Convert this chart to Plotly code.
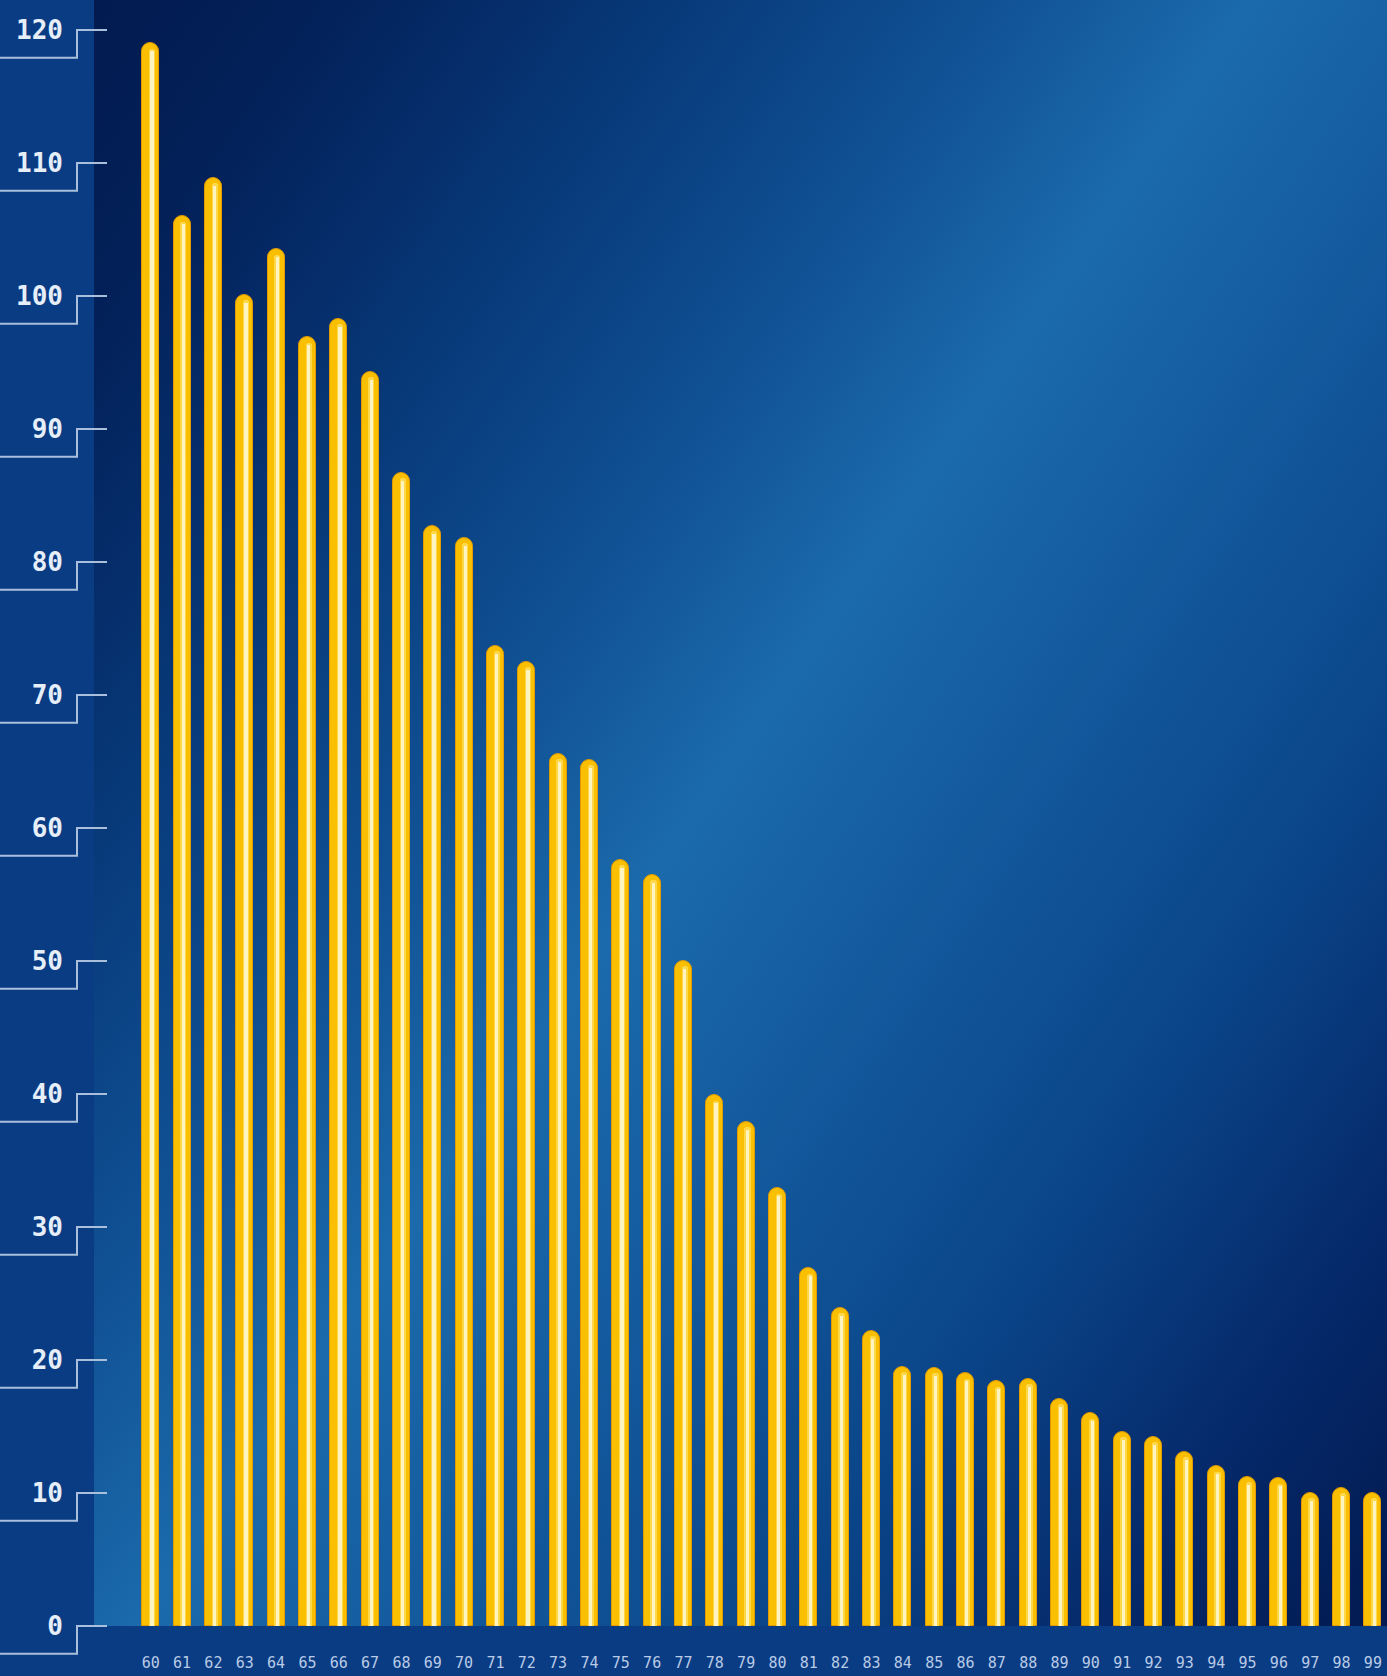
import base64
import plotly.graph_objects as go

# ---- data ----
years = list(range(60, 100))
year_labels = [str(y) for y in years]
values = [119.0, 106.0, 108.9, 100.1, 103.5, 96.9, 98.3, 94.3, 86.7, 82.7,
          81.8, 73.7, 72.5, 65.6, 65.1, 57.6, 56.5, 50.0, 39.9, 37.9,
          32.9, 26.9, 23.9, 22.2, 19.5, 19.4, 19.0, 18.4, 18.6, 17.1,
          16.0, 14.6, 14.2, 13.1, 12.0, 11.2, 11.1, 10.0, 10.4, 10.0]
y_ticks = list(range(0, 121, 10))

W, H = 1387, 1676
L, B = 94, 50
plot_w, plot_h = W - L, H - B
px_per_unit = 13.3
y_max = plot_h / px_per_unit
x_lo, x_hi = years[0] - 1.81, years[-1] + 0.45

# background gradient as svg image
gx2, gy2 = 1639, 1125
svg = f'''<svg xmlns="http://www.w3.org/2000/svg" width="{plot_w}" height="{plot_h}" viewBox="0 0 {plot_w} {plot_h}" preserveAspectRatio="none">
<defs><linearGradient id="g" gradientUnits="userSpaceOnUse" x1="0" y1="0" x2="{gx2}" y2="{gy2}">
<stop offset="0" stop-color="#021b4f"/>
<stop offset="0.1" stop-color="#03215a"/>
<stop offset="0.25" stop-color="#083b7b"/>
<stop offset="0.36" stop-color="#0f4f92"/>
<stop offset="0.48" stop-color="#1b6aab"/>
<stop offset="0.6" stop-color="#135a9d"/>
<stop offset="0.75" stop-color="#0a4488"/>
<stop offset="0.88" stop-color="#05296a"/>
<stop offset="1" stop-color="#021a50"/>
</linearGradient></defs>
<rect x="0" y="0" width="{plot_w}" height="{plot_h}" fill="url(#g)"/>
</svg>'''
src = "data:image/svg+xml;base64," + base64.b64encode(svg.encode()).decode()

fig = go.Figure()
fig.add_trace(go.Bar(
    x=years, y=values, width=0.54,
    marker=dict(color="#f9bf00", line=dict(color="#e39a00", width=1), cornerradius="50%"),
    hoverinfo="x+y", showlegend=False,
))
fig.add_trace(go.Bar(
    x=years, y=[v - 0.4 for v in values], width=0.2, offset=-0.06,
    marker=dict(color="#ffd84a", line=dict(width=0), cornerradius="50%"),
    hoverinfo="skip", showlegend=False,
))
fig.add_trace(go.Bar(
    x=years, y=[v - 0.6 for v in values], width=0.1, offset=-0.01,
    marker=dict(color="#fff4c0", line=dict(width=0), cornerradius="50%"),
    hoverinfo="skip", showlegend=False,
))

# step-shaped tick marks (paper coordinates so the 0 tick is not clipped)
pxx = 1.0 / plot_w
pxy = 1.0 / plot_h
drop = 27.7 * pxy
shapes = []
for t in y_ticks:
    yp = t / y_max
    xa, xb, xc = (0 - L) * pxx, (77 - L) * pxx, (107 - L) * pxx
    shapes.append(dict(
        type="path", xref="paper", yref="paper",
        path=f"M {xc},{yp} L {xb},{yp} L {xb},{yp - drop} L {xa},{yp - drop}",
        line=dict(color="#a9bfdc", width=2), layer="above",
    ))

fig.update_layout(
    width=W, height=H,
    margin=dict(l=L, r=0, t=0, b=B),
    paper_bgcolor="#0a3c84",
    plot_bgcolor="rgba(0,0,0,0)",
    barmode="overlay",
    bargap=0,
    shapes=shapes,
    images=[dict(source=src, xref="paper", yref="paper", x=0, y=1,
                 sizex=1, sizey=1, sizing="stretch", layer="below",
                 xanchor="left", yanchor="top")],
    xaxis=dict(range=[x_lo, x_hi], tickvals=years, ticktext=year_labels,
               showgrid=False, zeroline=False, showline=False, ticks="",
               ticklabelstandoff=26,
               tickfont=dict(family="DejaVu Sans Mono", size=15, color="#b9cbe6")),
    yaxis=dict(range=[0, y_max], tickvals=y_ticks, ticktext=[str(t) for t in y_ticks],
               showgrid=False, zeroline=False, showline=False, ticks="",
               ticklabelstandoff=30,
               tickfont=dict(family="DejaVu Sans Mono", size=26, color="#e6eef8", weight="bold")),
)

fig.write_html("out.html", config={"displayModeBar": False},
               post_script="document.body.style.margin='0';document.body.style.overflow='hidden';")
